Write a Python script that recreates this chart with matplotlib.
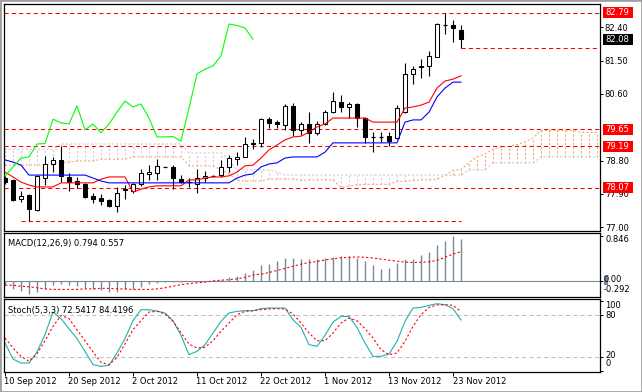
import matplotlib
matplotlib.use("Agg")
import matplotlib.pyplot as plt
from matplotlib.patches import Rectangle

W, H = 642, 392

# Etiquetas del eje de tiempo (cada 8 barras)
dates = ["10 Sep 2012", "20 Sep 2012", "2 Oct 2012", "11 Oct 2012",
         "22 Oct 2012", "1 Nov 2012", "13 Nov 2012", "23 Nov 2012"]
date_bars = [0, 8, 16, 24, 32, 40, 48, 56]

# Velas OHLC
opens = [78.32, 78.28, 77.76, 77.87, 77.47, 78.33, 78.71, 78.82, 78.36, 78.25,
         78.17, 77.85, 77.79, 77.74, 77.58, 78.01, 77.98, 78.17, 78.45, 78.47,
         78.63, 78.63, 78.30, 78.22, 78.17, 78.33, 78.39, 78.41, 78.63, 78.84,
         78.90, 79.28, 79.28, 79.92, 79.84, 79.76, 80.28, 79.63, 79.79, 79.55,
         79.79, 80.11, 80.38, 80.25, 80.33, 79.95, 79.45, 79.44, 79.47, 79.41,
         80.11, 81.14, 81.34, 81.36, 81.60, 82.46, 82.46, 82.33]
highs = [78.39, 78.30, 77.98, 77.90, 78.41, 78.93, 78.90, 79.20, 78.47, 78.36,
         78.20, 77.93, 77.90, 77.76, 78.09, 78.14, 78.20, 78.57, 78.68, 78.84,
         78.64, 78.68, 78.41, 78.33, 78.57, 78.52, 78.40, 78.82, 78.95, 79.03,
         79.44, 79.38, 79.95, 79.98, 79.90, 80.33, 80.36, 79.84, 80.11, 79.87,
         80.17, 80.65, 80.57, 80.38, 80.36, 79.98, 79.57, 79.57, 79.57, 80.30,
         81.44, 81.36, 81.54, 81.76, 82.52, 82.79, 82.60, 82.46]
lows = [78.17, 77.71, 77.68, 77.16, 77.44, 78.14, 78.49, 78.22, 77.98, 78.06,
        77.79, 77.66, 77.60, 77.55, 77.41, 77.76, 77.93, 78.12, 78.28, 78.28,
        78.62, 78.03, 78.20, 78.09, 77.93, 78.22, 78.38, 78.36, 78.49, 78.68,
        78.89, 79.11, 79.17, 79.68, 79.68, 79.63, 79.47, 79.49, 79.28, 79.49,
        79.76, 80.10, 80.11, 79.95, 79.71, 79.28, 79.03, 79.30, 79.20, 79.38,
        80.10, 80.87, 81.03, 81.09, 81.59, 82.22, 82.00, 81.83]
closes = [78.22, 77.74, 77.85, 77.49, 78.39, 78.71, 78.82, 78.39, 78.22, 78.17,
          77.82, 77.76, 77.71, 77.58, 77.93, 78.03, 78.17, 78.47, 78.48, 78.66,
          78.63, 78.33, 78.22, 78.21, 78.33, 78.39, 78.39, 78.63, 78.87, 78.90,
          79.25, 79.26, 79.92, 79.82, 79.79, 80.28, 79.63, 79.79, 79.55, 79.79,
          80.11, 80.41, 80.25, 80.33, 79.95, 79.44, 79.44, 79.45, 79.33, 80.22,
          81.14, 81.27, 81.36, 81.63, 82.49, 82.45, 82.38, 82.08]

# Ichimoku: Tenkan-sen y Kijun-sen
tenkan = [78.49, 78.36, 78.22, 78.14, 78.09, 78.09, 78.09, 78.20, 78.20, 78.20,
          78.20, 78.20, 78.30, 78.36, 78.36, 78.36, 77.95, 78.03, 78.09, 78.12,
          78.12, 78.12, 78.12, 78.28, 78.28, 78.33, 78.36, 78.36, 78.39, 78.49,
          78.66, 78.68, 78.87, 79.09, 79.22, 79.36, 79.44, 79.46, 79.57, 79.71,
          79.79, 79.95, 79.95, 79.95, 79.95, 79.95, 79.84, 79.84, 79.84, 79.84,
          80.22, 80.25, 80.30, 80.38, 80.76, 80.95, 81.00, 81.09]
kijun = [78.82, 78.76, 78.68, 78.41, 78.41, 78.41, 78.41, 78.41, 78.41, 78.41,
         78.41, 78.33, 78.25, 78.20, 78.20, 78.20, 78.20, 78.20, 78.20, 78.20,
         78.20, 78.20, 78.20, 78.20, 78.20, 78.20, 78.20, 78.20, 78.20, 78.33,
         78.41, 78.44, 78.63, 78.71, 78.74, 78.87, 78.90, 78.90, 78.90, 78.90,
         79.03, 79.28, 79.28, 79.28, 79.28, 79.28, 79.28, 79.28, 79.28, 79.28,
         79.84, 79.90, 79.90, 80.11, 80.52, 80.76, 80.92, 80.92]
# Senkou A de las primeras 26 posiciones (vienen de datos anteriores)
senkou_a_prev = [78.68, 78.68, 78.68, 78.68, 78.68, 78.68, 78.72, 78.74, 78.76, 78.79,
                 78.79, 78.79, 78.84, 78.84, 78.84, 78.84, 78.90, 78.90, 78.90, 78.90,
                 78.90, 78.90, 78.90, 78.66, 78.66, 78.66]
senkou_b = [79.11, 79.11, 79.11, 79.11, 79.11, 79.11, 79.11, 79.25, 79.25, 79.25,
            79.25, 79.25, 79.25, 79.25, 79.25, 79.25, 79.25, 79.25, 79.25, 79.25,
            79.25, 79.25, 79.25, 79.01, 79.01, 79.01, 79.01, 79.01, 78.82, 78.55,
            78.55, 78.55, 78.55, 78.55, 78.49, 78.41, 78.41, 78.41, 78.41, 78.41,
            78.41, 78.41, 78.41, 78.41, 78.41, 78.41, 78.41, 78.41, 78.41, 78.41,
            78.41, 78.41, 78.41, 78.41, 78.41, 78.41, 78.41, 78.41, 78.55, 78.55,
            78.55, 78.74, 78.74, 78.74, 78.74, 78.74, 78.74, 78.90, 78.90, 78.90,
            78.90, 78.90, 78.90, 78.90, 78.90]

# Niveles horizontales marcados
level_lines = [82.79, 79.65, 79.19, 78.07]
low_line = 77.17
last_low_line = 81.83
bid = 82.08
price_ticks = [82.40, 81.50, 80.60, 78.80, 77.90, 77.00]

# MACD(12,26,9)
macd_main = [-0.08, -0.15, -0.19, -0.24, -0.20, -0.15, -0.08, -0.06, -0.08, -0.10,
             -0.13, -0.16, -0.18, -0.21, -0.20, -0.16, -0.16, -0.11, -0.06, -0.03,
             -0.02, -0.01, -0.01, -0.005, 0.0, 0.005, 0.01, 0.025, 0.08, 0.09,
             0.16, 0.20, 0.30, 0.33, 0.37, 0.44, 0.44, 0.42, 0.42, 0.42,
             0.44, 0.46, 0.47, 0.47, 0.44, 0.38, 0.30, 0.22, 0.25, 0.35,
             0.42, 0.42, 0.49, 0.55, 0.68, 0.75, 0.846, 0.794]
macd_signal = [-0.08, -0.08, -0.10, -0.11, -0.13, -0.15, -0.16, -0.16, -0.16, -0.16,
               -0.15, -0.15, -0.14, -0.14, -0.15, -0.15, -0.16, -0.16, -0.16, -0.15,
               -0.13, -0.10, -0.07, -0.05, -0.035, -0.02, 0.0, 0.015, 0.025, 0.04,
               0.07, 0.11, 0.13, 0.16, 0.20, 0.24, 0.28, 0.32, 0.35, 0.37,
               0.40, 0.42, 0.44, 0.45, 0.456, 0.45, 0.437, 0.415, 0.395, 0.375,
               0.36, 0.35, 0.355, 0.365, 0.39, 0.45, 0.51, 0.557]

# Estocastico(5,3,3)
stoch_main = [39.9, 17.2, 11.5, 11.5, 27.1, 51.7, 83.8, 74.4, 60.2, 46.0,
              28.0, 9.1, 6.7, 8.2, 25.7, 46.0, 71.5, 87.1, 87.1, 85.2,
              82.4, 71.5, 50.7, 23.3, 28.0, 37.5, 54.0, 70.6, 82.4, 84.8,
              85.7, 85.7, 88.6, 89.5, 89.5, 89.5, 72.9, 62.0, 37.5, 35.1,
              50.7, 69.6, 77.6, 77.6, 62.0, 39.8, 20.9, 20.9, 24.2, 42.2,
              70.6, 89.5, 90.4, 93.3, 95.6, 94.2, 88.6, 72.54]
stoch_signal = [46.9, 32.8, 20.9, 13.9, 24.7, 43.1, 63.5, 79.0, 74.4, 58.7,
                43.1, 27.1, 12.4, 9.1, 19.5, 38.4, 58.7, 71.5, 83.8, 84.8,
                81.0, 70.6, 54.5, 38.4, 32.8, 33.8, 43.1, 56.4, 68.2, 80.0,
                84.8, 85.7, 87.1, 88.1, 88.6, 88.1, 81.0, 68.2, 54.0, 43.1,
                43.1, 54.0, 68.2, 75.3, 71.5, 60.2, 46.9, 30.4, 23.3, 25.7,
                42.2, 63.5, 80.0, 90.4, 93.8, 94.2, 93.3, 84.42]

FONT = 6
DASH = (0, (4, 3))
XMIN, XMAX = -0.125, 74.375
MACD_GRAY = "#778899"


def px_axes(fig, top, bottom):
    # crea un eje usando coordenadas en pixeles (left=4, right=600)
    return fig.add_axes([4 / W, 1 - bottom / H, 596 / W, (bottom - top) / H])


def ftext(fig, x, y, s, **kw):
    fig.text(x / W, 1 - y / H, s, fontsize=FONT, va="center", **kw)


def fbox(fig, x, y, w, h, color):
    fig.add_artist(Rectangle((x / W, 1 - (y + h) / H), w / W, h / H,
                             transform=fig.transFigure, color=color, lw=0))


def style_axes(ax):
    for s in ax.spines.values():
        s.set_linewidth(0.9)
        s.set_color("black")
    ax.set_xlim(XMIN, XMAX)
    ax.set_xticks([])
    ax.set_yticks([])


fig = plt.figure(figsize=(W / 100, H / 100), dpi=100)
fig.add_artist(Rectangle((0, 0), 1, 1, transform=fig.transFigure,
                         fill=False, edgecolor="#a0a0a0", lw=2))

# ---------------- grafico principal ----------------
ax = px_axes(fig, 4, 231)
style_axes(ax)
ax.set_ylim(76.90, 83.03)

n = len(closes)
npos = len(senkou_b)
senkou_a = senkou_a_prev + [(tenkan[i] + kijun[i]) / 2 for i in range(npos - 26)]

# nube
for p in range(npos):
    a, b = senkou_a[p], senkou_b[p]
    col = "#d8bfd8" if b > a else "#f4a460"
    ax.vlines(p, min(a, b), max(a, b), color=col, lw=0.75,
              linestyles=(0, (2, 2)), zorder=1)
ax.plot(range(npos), senkou_a, color="#f4a460", lw=0.75, ls=(0, (2, 2)), zorder=1)
ax.plot(range(npos), senkou_b, color="#d8bfd8", lw=0.75, ls=(0, (2, 2)), zorder=1)

# lineas de nivel
for lv in level_lines:
    ax.axhline(lv, color="red", lw=0.75, ls=DASH, zorder=2)
ax.hlines(low_line, 2, n - 1, color="red", lw=0.75, linestyles=DASH, zorder=2)
ax.hlines(last_low_line, n - 1, XMAX, color="red", lw=0.75, linestyles=DASH, zorder=2)

# velas
for i in range(n):
    o, h, l, c = opens[i], highs[i], lows[i], closes[i]
    ax.vlines(i, l, h, color="black", lw=0.8, zorder=3)
    if abs(c - o) < 0.012:
        ax.hlines(c, i - 0.3, i + 0.3, color="black", lw=0.9, zorder=4)
    else:
        fc = "white" if c > o else "black"
        ax.add_patch(Rectangle((i - 0.28, min(o, c)), 0.56, abs(c - o),
                               facecolor=fc, edgecolor="black", lw=0.75, zorder=4))

# tenkan, kijun, chikou
ax.plot(range(n), tenkan, color="red", lw=0.8, zorder=5)
ax.plot(range(n), kijun, color="blue", lw=0.8, zorder=5)
ax.plot([i - 26 for i in range(26, n)], closes[26:], color="#00ff00", lw=0.8, zorder=5)

ax.yaxis.tick_right()
ax.set_yticks(price_ticks)
ax.set_yticklabels(["%.2f" % v for v in price_ticks], fontsize=FONT)
ax.tick_params(axis="y", length=2.5, width=0.7, pad=1)

# ---------------- MACD ----------------
axm = px_axes(fig, 233, 297)
style_axes(axm)
axm.set_ylim(-0.304, 0.911)
axm.axhline(0, color=MACD_GRAY, lw=0.8)
axm.vlines(range(n), 0, macd_main, color=MACD_GRAY, lw=1.0, snap=True)
axm.plot(range(n), macd_signal, color="red", lw=0.8, ls=(0, (2, 2)))
axm.set_yticks([0.846, 0.0])
axm.yaxis.tick_right()
axm.set_yticklabels([])
axm.tick_params(axis="y", length=2.5, width=0.7)

# ---------------- Estocastico ----------------
axs = px_axes(fig, 299, 372)
style_axes(axs)
axs.set_ylim(-1.3, 102.3)
for lv in (20, 80):
    axs.axhline(lv, color="#c0c0c0", lw=0.75, ls=DASH)
axs.plot(range(n), stoch_main, color="#20b2aa", lw=0.8)
axs.plot(range(n), stoch_signal, color="red", lw=0.8, ls=(0, (2, 2)))
axs.set_xticks(date_bars)
axs.set_xticklabels([])
axs.tick_params(axis="x", length=3, width=0.7)
axs.yaxis.tick_right()
axs.set_yticks([100, 80, 20, 0])
axs.set_yticklabels([])
axs.tick_params(axis="y", length=2.5, width=0.7)

# ---------------- textos ----------------
ftext(fig, 8, 243.5, "MACD(12,26,9) 0.794 0.557")
ftext(fig, 8, 310, "Stoch(5,3,3) 72.5417 84.4196")

for b, lab in zip(date_bars, dates):
    ftext(fig, 5 + 8 * b - 0.5, 382, lab, ha="left")

ftext(fig, 605, 240, "0.846")
fbox(fig, 604, 276, 4, 9, MACD_GRAY)
ftext(fig, 604, 280, "0.00")
ftext(fig, 604, 290, "-0.292")
ftext(fig, 605, 306, "100")
ftext(fig, 605, 315, "80")
ftext(fig, 605, 356, "20")
ftext(fig, 605, 364, "0")

# etiquetas de precio con fondo
for lv in level_lines:
    yp = 4 + (83.03 - lv) / (83.03 - 76.90) * 227
    fbox(fig, 603, yp - 5.5, 30, 11, "red")
    ftext(fig, 605, yp, "%.2f" % lv, color="white")
yb = 4 + (83.03 - bid) / (83.03 - 76.90) * 227
fbox(fig, 603, yb - 5.5, 30, 11, "black")
ftext(fig, 605, yb, "%.2f" % bid, color="white")

fig.savefig("out.png", dpi=100)
